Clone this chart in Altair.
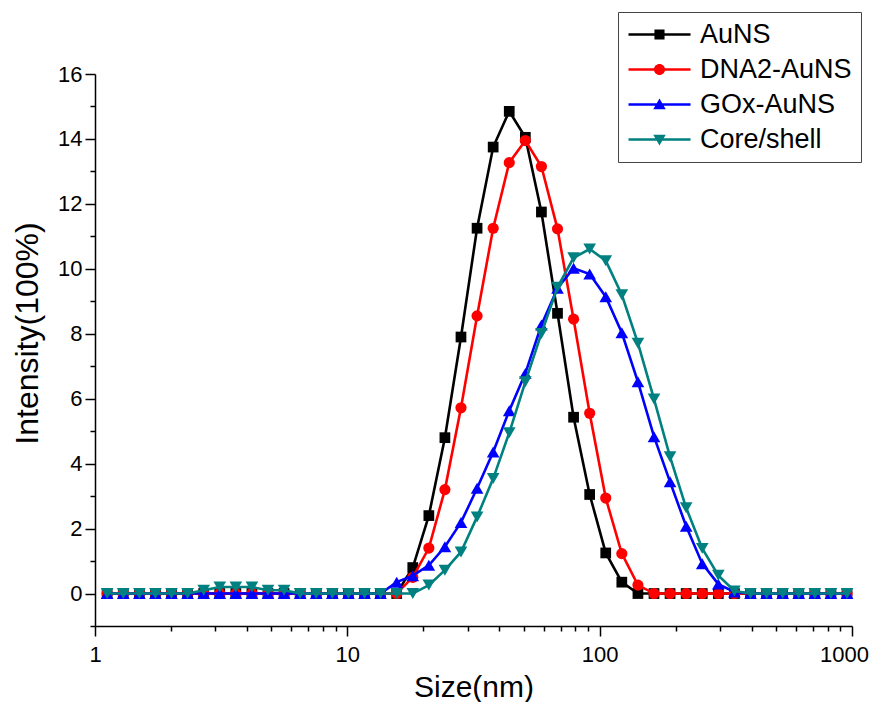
import altair as alt
import pandas as pd

# Size bins (nm)
sizes = [1.117, 1.294, 1.499, 1.736, 2.010, 2.328, 2.696, 3.122, 3.615, 4.187,
         4.849, 5.615, 6.503, 7.531, 8.721, 10.10, 11.70, 13.54, 15.69, 18.17,
         21.04, 24.36, 28.21, 32.67, 37.84, 43.82, 50.75, 58.77, 68.06, 78.82,
         91.28, 105.7, 122.4, 141.8, 164.2, 190.1, 220.2, 255.0, 295.3, 342.0,
         396.1, 458.7, 531.2, 615.1, 712.4, 825.0, 955.4]

auns = [0] * 19 + [0.8, 2.4, 4.8, 7.9, 11.25, 13.75, 14.85, 14.05, 11.75, 8.63,
                   5.43, 3.05, 1.25, 0.35] + [0] * 14
dna2 = [0] * 19 + [0.5, 1.4, 3.2, 5.72, 8.55, 11.25, 13.27, 13.95, 13.15, 11.23,
                   8.45, 5.55, 2.94, 1.23, 0.26] + [0] * 13
gox = [0] * 18 + [0.35, 0.55, 0.87, 1.44, 2.19, 3.24, 4.36, 5.63, 6.78, 8.27,
                  9.4, 10.02, 9.84, 9.14, 8.03, 6.52, 4.83, 3.44, 2.07, 0.92,
                  0.29, 0.05] + [0] * 7
core = [0] * 6 + [0.1, 0.2, 0.2, 0.2, 0.1, 0.1] + [0] * 8 + \
       [0.26, 0.72, 1.28, 2.36, 3.54, 4.95, 6.52, 8.01, 9.43, 10.34,
        10.61, 10.25, 9.2, 7.71, 5.99, 4.21, 2.64, 1.39, 0.56, 0.08] + [0] * 7

series = ["AuNS", "DNA2-AuNS", "GOx-AuNS", "Core/shell"]
colors = ["#000000", "#ff0000", "#0000ff", "#008080"]
shapes = ["square", "circle", "triangle-up", "triangle-down"]
marker_sizes = [115, 125, 160, 160]

# legend glyphs (line segment + marker), in units of half the symbol size
LINE = "M-1,-0.1H4.17V0.1H-1Z "
legend_paths = [
    LINE + "M1.163,-0.42H2.003V0.42H1.163Z",
    LINE + "M1.123,0A0.46,0.46 0 1,1 2.043,0A0.46,0.46 0 1,1 1.123,0Z",
    LINE + "M1.583,-0.5L2.103,0.4L1.063,0.4Z",
    LINE + "M1.583,0.5L1.063,-0.4L2.103,-0.4Z",
]

x_ticks = [1, 2, 3, 4, 5, 6, 7, 8, 9, 10, 20, 30, 40, 50, 60, 70, 80, 90,
           100, 200, 300, 400, 500, 600, 700, 800, 900, 1000]
y_ticks = list(range(-1, 17))

rows = []
for name, vals in zip(series, [auns, dna2, gox, core]):
    for s, v in zip(sizes, vals):
        rows.append({"size": s, "value": v, "series": name})
df = pd.DataFrame(rows)
legend_df = pd.DataFrame({"series": series})

FONT = "Liberation Sans"
x_major_test = "datum.value == 1 || datum.value == 10 || datum.value == 100 || datum.value == 1000"
y_major_test = "datum.value >= 0 && datum.value % 2 == 0"

x_enc = alt.X(
    "size:Q",
    scale=alt.Scale(type="log", domain=[1, 1000]),
    axis=alt.Axis(
        values=x_ticks,
        labelExpr=f"({x_major_test}) ? format(datum.value, 'd') : ''",
        tickSize={"condition": {"test": x_major_test, "value": 10}, "value": 5},
        labelOffset={"condition": {"test": "datum.value == 1000", "value": -8}, "value": 0},
        title="Size(nm)",
        labelPadding=8,
        labelFlush=False,
        labelOverlap=False,
        titleY=70,
        titleBaseline="alphabetic",
        titleFontSize=30,
    ),
)
y_enc = alt.Y(
    "value:Q",
    scale=alt.Scale(domain=[-1, 16], nice=False, zero=False),
    axis=alt.Axis(
        values=y_ticks,
        labelExpr=f"({y_major_test}) ? datum.label : ''",
        tickSize={"condition": {"test": y_major_test, "value": 10}, "value": 5},
        title="Intensity(100%)",
        labelPadding=3,
        labelFlush=False,
        labelOverlap=False,
        titleX=-68,
        titleY=259,
        titleBaseline="middle",
        titleAnchor="middle",
        titleFontSize=32,
    ),
)

layers = []
for i, name in enumerate(series):
    base = alt.Chart(df).transform_filter(alt.datum.series == name)
    line = base.mark_line(strokeWidth=2.6, color=colors[i]).encode(x=x_enc, y=y_enc)
    pts = base.mark_point(filled=True, shape=shapes[i], size=marker_sizes[i],
                          opacity=1, color=colors[i]).encode(x=x_enc, y=y_enc)
    layers += [line, pts]

leg = alt.Legend(
    orient="none", legendX=523, legendY=-62, title=None,
    labelFont=FONT, labelFontSize=27, labelColor="black",
    symbolSize=576, symbolStrokeWidth=0, symbolOpacity=1, labelOffset=46,
    strokeColor="#444444", padding=9, rowPadding=7,
)
legend_layer = alt.Chart(legend_df).mark_point(filled=True, opacity=0).encode(
    color=alt.Color("series:N", scale=alt.Scale(domain=series, range=colors), legend=leg),
    shape=alt.Shape("series:N", scale=alt.Scale(domain=series, range=legend_paths), legend=leg),
)
layers.append(legend_layer)

chart = alt.layer(*layers).properties(
    width=757, height=552,
    autosize=alt.AutoSizeParams(type="none"),
    padding={"left": 87, "top": 66, "right": 19, "bottom": 76},
).configure_view(stroke=None).configure_axis(
    grid=False,
    domainColor="black", domainWidth=1.5,
    tickColor="black", tickWidth=1.5,
    labelFont=FONT, labelFontSize=22, labelColor="black",
    titleFont=FONT, titleFontWeight="normal", titleColor="black",
)

chart.save("out.html", embed_options={"renderer": "svg", "actions": False})
